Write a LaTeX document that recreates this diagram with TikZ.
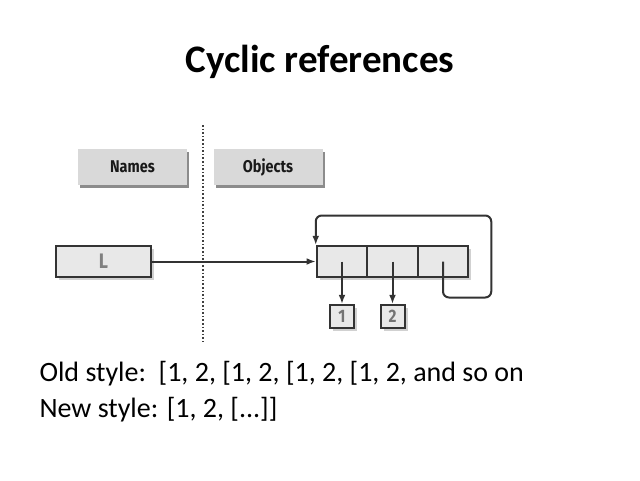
\documentclass[tikz,border=0pt]{standalone}
\usepackage{fontspec}
\setmainfont{Carlito}
\newfontfamily\boxfont[FakeStretch=0.85]{Fira Sans}
\usetikzlibrary{arrows.meta,calc,shadows}

\definecolor{cellfill}{HTML}{E8E8E8}
\definecolor{headfill}{HTML}{D9D9D9}
\definecolor{edge}{HTML}{333333}

\begin{document}
\begin{tikzpicture}[x=1pt, y=-1pt, >={Latex[length=3.2mm, width=2.4mm]},
  headbox/.style={fill=headfill, minimum width=109pt, minimum height=36pt,
    font=\boxfont\bfseries\fontsize{17}{20}\selectfont, text=black!90,
    drop shadow={fill=black!45, shadow xshift=2pt, shadow yshift=-2.5pt, opacity=1}},
  cellbox/.style={draw=edge, line width=2pt, fill=cellfill, inner sep=0pt,
    drop shadow={fill=black!18, shadow xshift=3pt, shadow yshift=-3pt, opacity=1}},
  numbox/.style={cellbox, minimum width=24pt, minimum height=23pt,
    font=\boxfont\bfseries\fontsize{18}{20}\selectfont, text=black!55},
  link/.style={->, line width=2pt, edge}]
  \useasboundingbox (0,0) rectangle (640,480);

  \node[font=\bfseries\fontsize{39}{46}\selectfont] (title) at (320,62) {Cyclic references};

  \node[headbox] (names) at (132.5,167) {Names};
  \node[headbox] (objects) at (268,167) {Objects};
  \coordinate (top) at (203,125);
  \coordinate (bot) at (203,342);
  \draw[dotted, line width=1.6pt, black!75] (top) -- (bot);

  \node[cellbox, minimum width=95pt, minimum height=31pt,
    font=\boxfont\bfseries\fontsize{21}{24}\selectfont, text=black!50] (L) at (103.5,261.5) {L};
  \node[cellbox, minimum width=50.5pt, minimum height=31pt] (c1) at (342,261.5) {};
  \node[cellbox, minimum width=50.5pt, minimum height=31pt] (c2) at (392.5,261.5) {};
  \node[cellbox, minimum width=50.5pt, minimum height=31pt] (c3) at (443,261.5) {};
  \node[numbox] (n1) at (342,316.5) {1};
  \node[numbox] (n2) at (392.5,316.5) {2};

  \draw[link] (L) -- (c1);
  \draw[link] (c1.center) -- (n1);
  \draw[link] (c2.center) -- (n2);
  \draw[link, rounded corners=6pt] (c3.center) -- ++(0,36)
    -| ($(c3.east)+(22,-46)$) -| (c1.north west);

  \node[anchor=west, font=\fontsize{28}{32}\selectfont] (old) at (36,374)
    {Old style:\ \ [1, 2, [1, 2, [1, 2, [1, 2, and so on};
  \node[anchor=west, font=\fontsize{28}{32}\selectfont] (new) at (36,410)
    {New style: [1, 2, [...]]};
\end{tikzpicture}
\end{document}
